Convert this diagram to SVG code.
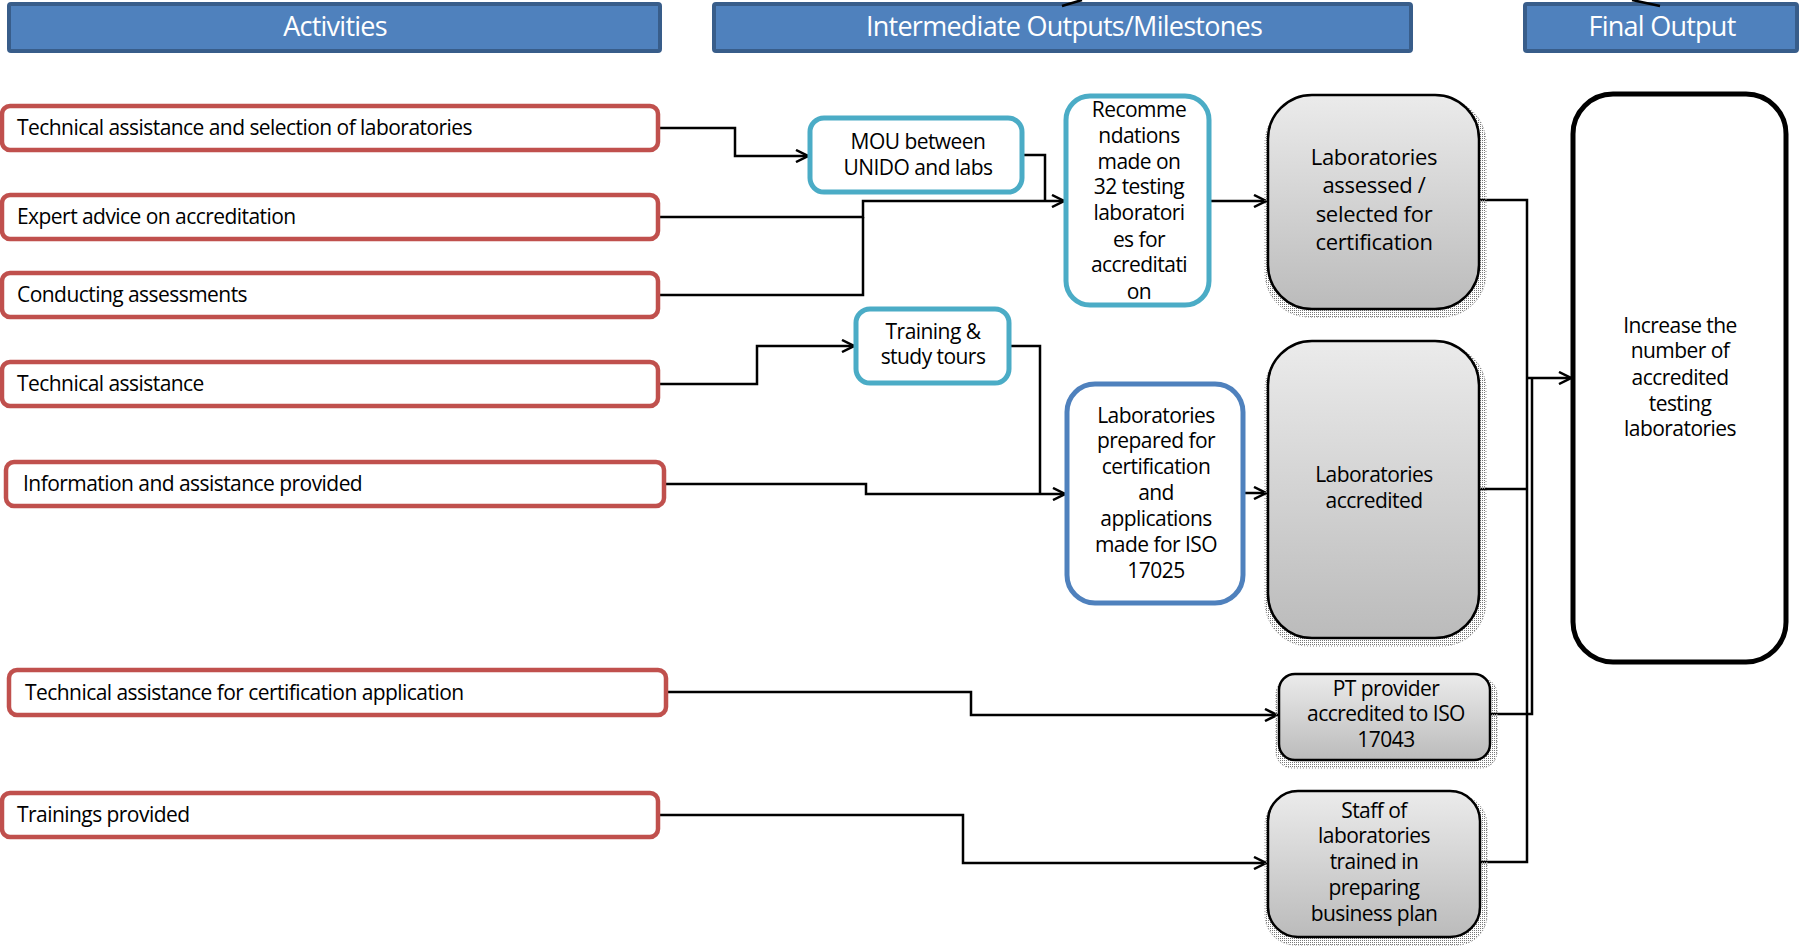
<svg xmlns="http://www.w3.org/2000/svg" width="1800" height="946" viewBox="0 0 1800 946">
  <defs>
    <style>
      .hdr { fill: #4F81BD; stroke: #385D8A; stroke-width: 4; }
      .hdrText { font-family: "Open Sans", "Liberation Sans", sans-serif; font-size: 27px; fill: #FFFFFF; text-anchor: middle; letter-spacing: -0.75px; }
      .act { fill: #FFFFFF; stroke: #C0504D; stroke-width: 4.5; }
      .cyan { fill: #FFFFFF; stroke: #4BACC6; stroke-width: 5; }
      .blue { fill: #FFFFFF; stroke: #4F81BD; stroke-width: 5; }
      .grey { fill: url(#greyGrad); stroke: #000000; stroke-width: 2.5; }
      .shadow { fill: url(#dots); stroke: #888888; stroke-width: 1; stroke-dasharray: 1 2; }
      .final { fill: #FFFFFF; stroke: #000000; stroke-width: 5; }
      .lbl { font-family: "Open Sans", "Liberation Sans", sans-serif; font-size: 21px; fill: #000000; letter-spacing: -0.55px; }
      .mid { text-anchor: middle; }
      .big { font-size: 22px; letter-spacing: -0.3px; }
      .wire { fill: none; stroke: #000000; stroke-width: 2.5; }
      .arrow { marker-end: url(#arr); }
    </style>
    <linearGradient id="greyGrad" x1="0" y1="0" x2="0" y2="1">
      <stop offset="0" stop-color="#EBEBEB"/>
      <stop offset="1" stop-color="#BBBBBB"/>
    </linearGradient>
    <pattern id="dots" width="2" height="2" patternUnits="userSpaceOnUse">
      <rect width="1" height="1" fill="#777777"/>
    </pattern>
    <marker id="arr" viewBox="0 0 14 14" refX="13" refY="7" markerWidth="14" markerHeight="14" markerUnits="userSpaceOnUse" orient="auto">
      <path d="M1,1 L13,7 L1,13" fill="none" stroke="#000000" stroke-width="2.5"/>
    </marker>
  </defs>

  <rect width="1800" height="946" fill="#FFFFFF"/>

  <!-- column headers -->
  <g id="hdr-activities">
    <rect class="hdr" x="9" y="4" width="651" height="47" rx="2"/>
    <text class="hdrText" x="335" y="36">Activities</text>
  </g>
  <g id="hdr-intermediate">
    <rect class="hdr" x="714" y="4" width="697" height="47" rx="2"/>
    <text class="hdrText" x="1064" y="36">Intermediate Outputs/Milestones</text>
  </g>
  <g id="hdr-final">
    <rect class="hdr" x="1525" y="4" width="272" height="47" rx="2"/>
    <text class="hdrText" x="1662" y="36">Final Output</text>
  </g>

  <!-- connectors -->
  <g id="connectors">
    <path class="wire" d="M1062,6 L1082,0"/>
    <path class="wire" d="M1632,0 L1660,6"/>

    <path class="wire arrow" d="M658,128 H735 V156 H808"/>
    <path class="wire" d="M1022,155 H1045 V201"/>
    <path class="wire arrow" d="M658,217 H863 V201 H1064"/>
    <path class="wire" d="M658,295 H863 V217"/>
    <path class="wire arrow" d="M1209,201 H1266"/>

    <path class="wire arrow" d="M658,384 H757 V346 H854"/>
    <path class="wire" d="M1010,346 H1040 V494"/>
    <path class="wire arrow" d="M664,484 H866 V494 H1065"/>
    <path class="wire arrow" d="M1244,493 H1266"/>

    <path class="wire arrow" d="M666,692 H971 V715 H1277"/>
    <path class="wire arrow" d="M658,815 H963 V863 H1266"/>

    <path class="wire" d="M1480,200 H1527 V862 H1480"/>
    <path class="wire" d="M1480,489 H1527"/>
    <path class="wire" d="M1490,714 H1532 V378"/>
    <path class="wire arrow" d="M1527,378 H1571"/>
  </g>

  <!-- activities -->
  <g id="act-selection">
    <rect class="act" x="2" y="106" width="656" height="44" rx="8"/>
    <text class="lbl" x="17" y="135">Technical assistance and selection of laboratories</text>
  </g>
  <g id="act-expert">
    <rect class="act" x="2" y="195" width="656" height="44" rx="8"/>
    <text class="lbl" x="17" y="224">Expert advice on accreditation</text>
  </g>
  <g id="act-assessments">
    <rect class="act" x="2" y="273" width="656" height="44" rx="8"/>
    <text class="lbl" x="17" y="302">Conducting assessments</text>
  </g>
  <g id="act-tech">
    <rect class="act" x="2" y="362" width="656" height="44" rx="8"/>
    <text class="lbl" x="17" y="391">Technical assistance</text>
  </g>
  <g id="act-info">
    <rect class="act" x="6" y="462" width="658" height="44" rx="8"/>
    <text class="lbl" x="23" y="491">Information and assistance provided</text>
  </g>
  <g id="act-cert-app">
    <rect class="act" x="9" y="670" width="657" height="45" rx="8"/>
    <text class="lbl" x="25" y="700">Technical assistance for certification application</text>
  </g>
  <g id="act-trainings">
    <rect class="act" x="2" y="793" width="656" height="44" rx="8"/>
    <text class="lbl" x="17" y="822">Trainings provided</text>
  </g>

  <!-- intermediate outputs -->
  <g id="out-mou">
    <rect class="cyan" x="810" y="118" width="212" height="74" rx="14"/>
    <text class="lbl mid" x="918" y="149">MOU between</text>
    <text class="lbl mid" x="918" y="175">UNIDO and labs</text>
  </g>
  <g id="out-recommendations">
    <rect class="cyan" x="1066" y="96" width="143" height="209" rx="24"/>
    <text class="lbl mid" x="1139" y="117">Recomme</text>
    <text class="lbl mid" x="1139" y="143">ndations</text>
    <text class="lbl mid" x="1139" y="169">made on</text>
    <text class="lbl mid" x="1139" y="194">32 testing</text>
    <text class="lbl mid" x="1139" y="220">laboratori</text>
    <text class="lbl mid" x="1139" y="247">es for</text>
    <text class="lbl mid" x="1139" y="272">accreditati</text>
    <text class="lbl mid" x="1139" y="299">on</text>
  </g>
  <g id="out-training">
    <rect class="cyan" x="856" y="309" width="153" height="74" rx="14"/>
    <text class="lbl mid" x="933" y="339">Training &amp;</text>
    <text class="lbl mid" x="933" y="364">study tours</text>
  </g>
  <g id="out-prepared">
    <rect class="blue" x="1067" y="384" width="176" height="219" rx="28"/>
    <text class="lbl mid" x="1156" y="423">Laboratories</text>
    <text class="lbl mid" x="1156" y="448">prepared for</text>
    <text class="lbl mid" x="1156" y="474">certification</text>
    <text class="lbl mid" x="1156" y="500">and</text>
    <text class="lbl mid" x="1156" y="526">applications</text>
    <text class="lbl mid" x="1156" y="552">made for ISO</text>
    <text class="lbl mid" x="1156" y="578">17025</text>
  </g>

  <g id="out-assessed">
    <rect class="shadow" x="1265" y="99" width="221" height="218" rx="44"/>
    <rect class="grey" x="1268" y="95" width="211" height="214" rx="44"/>
    <text class="lbl mid big" x="1374" y="165">Laboratories</text>
    <text class="lbl mid big" x="1374" y="193">assessed /</text>
    <text class="lbl mid big" x="1374" y="222">selected for</text>
    <text class="lbl mid big" x="1374" y="250">certification</text>
  </g>
  <g id="out-accredited">
    <rect class="shadow" x="1265" y="345" width="221" height="301" rx="44"/>
    <rect class="grey" x="1268" y="341" width="211" height="297" rx="44"/>
    <text class="lbl mid" x="1374" y="482">Laboratories</text>
    <text class="lbl mid" x="1374" y="508">accredited</text>
  </g>
  <g id="out-pt">
    <rect class="shadow" x="1276" y="678" width="221" height="90" rx="16"/>
    <rect class="grey" x="1279" y="674" width="211" height="86" rx="16"/>
    <text class="lbl mid" x="1386" y="696">PT provider</text>
    <text class="lbl mid" x="1386" y="721">accredited to ISO</text>
    <text class="lbl mid" x="1386" y="747">17043</text>
  </g>
  <g id="out-staff">
    <rect class="shadow" x="1265" y="795" width="222" height="150" rx="30"/>
    <rect class="grey" x="1268" y="791" width="212" height="146" rx="30"/>
    <text class="lbl mid" x="1374" y="818">Staff of</text>
    <text class="lbl mid" x="1374" y="843">laboratories</text>
    <text class="lbl mid" x="1374" y="869">trained in</text>
    <text class="lbl mid" x="1374" y="895">preparing</text>
    <text class="lbl mid" x="1374" y="921">business plan</text>
  </g>

  <!-- final output -->
  <g id="final-output">
    <rect class="final" x="1573" y="94" width="213" height="568" rx="40"/>
    <text class="lbl mid" x="1680" y="333">Increase the</text>
    <text class="lbl mid" x="1680" y="358">number of</text>
    <text class="lbl mid" x="1680" y="385">accredited</text>
    <text class="lbl mid" x="1680" y="411">testing</text>
    <text class="lbl mid" x="1680" y="436">laboratories</text>
  </g>
</svg>
